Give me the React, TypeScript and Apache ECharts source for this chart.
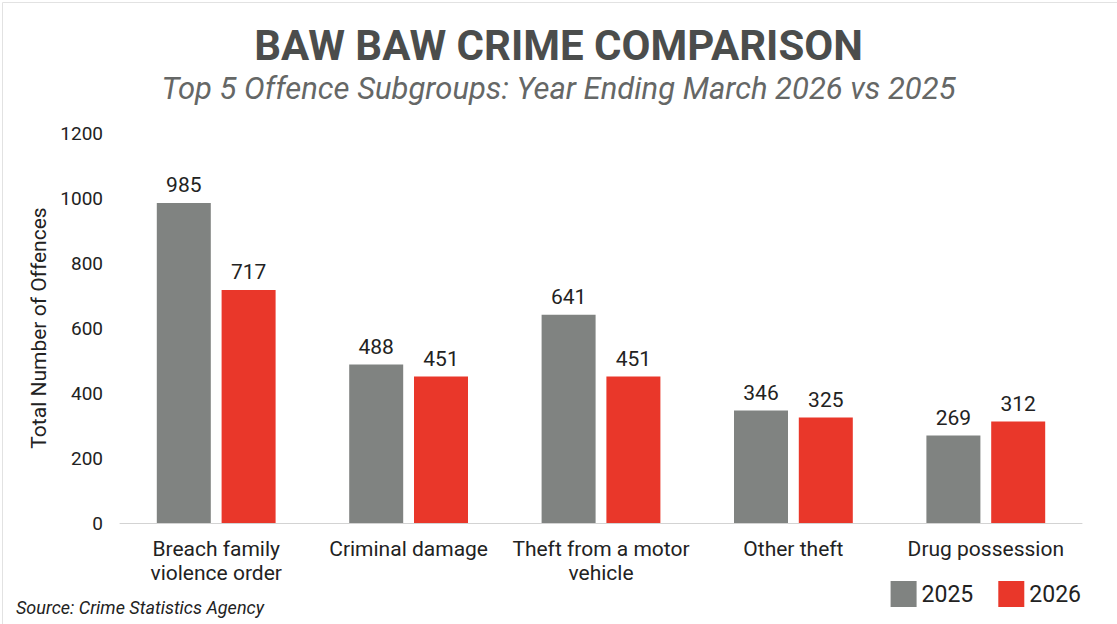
import React, { useEffect, useRef } from "react";
import * as echarts from "echarts";

const categories = [
  "Breach family\nviolence order",
  "Criminal damage",
  "Theft from a motor\nvehicle",
  "Other theft",
  "Drug possession",
];
const values2025 = [985, 488, 641, 346, 269];
const values2026 = [717, 451, 451, 325, 312];
const yTicks = { min: 0, max: 1200, interval: 200 };

const GREY = "#808381";
const RED = "#e9372a";
const FONT = "Roboto, 'Noto Sans', sans-serif";

export default function App() {
  const ref = useRef<HTMLDivElement>(null);

  useEffect(() => {
    if (!ref.current) return;
    const chart = echarts.init(ref.current, undefined, { renderer: "svg" });
    const label = {
      show: true,
      position: "top" as const,
      distance: 7,
      fontFamily: FONT,
      fontSize: 21,
      color: "#222",
    };
    chart.setOption({
      animation: false,
      backgroundColor: "#fff",
      textStyle: { fontFamily: FONT },
      title: [
        {
          text: "BAW BAW CRIME COMPARISON",
          left: "center",
          top: 19,
          textStyle: {
            fontFamily: FONT,
            fontSize: 42,
            fontWeight: "bold",
            color: "#4b4d4c",
          },
        },
        {
          text: "Top 5 Offence Subgroups: Year Ending March 2026 vs 2025",
          left: "center",
          top: 68,
          textStyle: {
            fontFamily: FONT,
            fontSize: 31,
            fontStyle: "italic",
            fontWeight: "normal",
            color: "#656766",
          },
        },
        {
          text: "Source: Crime Statistics Agency",
          left: 11,
          top: 593,
          textStyle: {
            fontFamily: FONT,
            fontSize: 18,
            fontStyle: "italic",
            fontWeight: "normal",
            color: "#222",
          },
        },
      ],
      legend: {
        right: 31,
        top: 576,
        itemWidth: 26,
        itemHeight: 26,
        itemGap: 25,
        icon: "rect",
        textStyle: { fontFamily: FONT, fontSize: 23, color: "#222" },
        data: ["2025", "2026"],
      },
      grid: { left: 120, right: 35, top: 133, bottom: 101 },
      xAxis: {
        type: "category",
        data: categories,
        axisLine: { show: true, lineStyle: { color: "#d3d3d3", width: 1 } },
        axisTick: { show: false },
        axisLabel: {
          fontFamily: FONT,
          fontSize: 21,
          color: "#222",
          margin: 14,
          lineHeight: 24,
          interval: 0,
        },
      },
      yAxis: {
        type: "value",
        min: yTicks.min,
        max: yTicks.max,
        interval: yTicks.interval,
        name: "Total Number of Offences",
        nameLocation: "middle",
        nameGap: 66,
        nameTextStyle: { fontFamily: FONT, fontSize: 21, color: "#222" },
        axisLine: { show: false },
        axisTick: { show: false },
        splitLine: { show: false },
        axisLabel: {
          fontFamily: FONT,
          fontSize: 19,
          color: "#222",
          margin: 17,
          formatter: (v: number) => String(v),
        },
      },
      series: [
        {
          name: "2025",
          type: "bar",
          data: values2025,
          barWidth: 54,
          barGap: "20%",
          itemStyle: { color: GREY },
          label,
        },
        {
          name: "2026",
          type: "bar",
          data: values2026,
          barWidth: 54,
          barGap: "20%",
          itemStyle: { color: RED },
          label,
        },
      ],
      graphic: [
        {
          type: "rect",
          left: 0,
          top: 0,
          shape: { width: 1116, height: 623 },
          style: { fill: "none", stroke: "#e2e2e2", lineWidth: 1 },
          silent: true,
        },
      ],
    });
    return () => chart.dispose();
  }, []);

  return (
    <div
      ref={ref}
      style={{ position: "fixed", left: 0, top: 0, width: 1117, height: 624 }}
    />
  );
}
